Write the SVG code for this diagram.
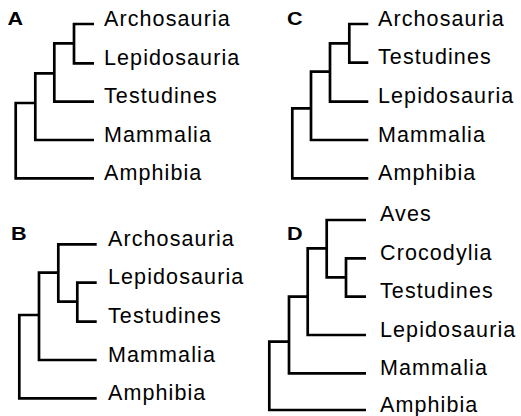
<svg xmlns="http://www.w3.org/2000/svg" width="521" height="416" viewBox="0 0 521 416">
<style>
.e{fill:none;stroke:#000;stroke-width:2.7;stroke-linejoin:miter}
.t{font-family:"Liberation Sans",Arial,sans-serif;font-size:21.5px;letter-spacing:1.1px;fill:#000}
.p{font-family:"Liberation Sans",Arial,sans-serif;font-size:18px;font-weight:bold;fill:#000}
</style>
<rect width="521" height="416" fill="#fff"/>
<g id="connectors">
<path class="e" d="M94 24 H74 V63.3 H94"/>
<path class="e" d="M74 43.3 H54.3 V101.7 H94"/>
<path class="e" d="M54.3 73.3 H35.3 V140 H94"/>
<path class="e" d="M35.3 103 H15.7 V178.3 H94"/>
<path class="e" d="M368.3 24 H349.3 V62.7 H368.3"/>
<path class="e" d="M349.3 43.3 H330 V101.7 H368.3"/>
<path class="e" d="M330 71.7 H311 V140 H368.3"/>
<path class="e" d="M311 108.3 H292.3 V178.3 H368.3"/>
<path class="e" d="M96.7 282.7 H77.3 V321.7 H96.7"/>
<path class="e" d="M96.7 244.3 H58.3 V301.7 H77.3"/>
<path class="e" d="M58.3 272.7 H39 V360 H96.7"/>
<path class="e" d="M39 315 H19.3 V398.3 H96.7"/>
<path class="e" d="M366 258.3 H346 V296.7 H366"/>
<path class="e" d="M366 220 H326.7 V277.3 H346"/>
<path class="e" d="M326.7 248.3 H307.7 V335 H366"/>
<path class="e" d="M307.7 296.7 H289 V373.3 H366"/>
<path class="e" d="M289 341.7 H269.3 V410 H366"/>
</g>
<g id="panelA">
<text class="p" transform="translate(7.5,25) scale(1.2,1)">A</text>
<g id="A-Archosauria"><text class="t" x="104" y="26">Archosauria</text></g>
<g id="A-Lepidosauria"><text class="t" x="104" y="64.5">Lepidosauria</text></g>
<g id="A-Testudines"><text class="t" x="104" y="103">Testudines</text></g>
<g id="A-Mammalia"><text class="t" x="104" y="141.5">Mammalia</text></g>
<g id="A-Amphibia"><text class="t" x="104" y="179.5">Amphibia</text></g>
</g>
<g id="panelC">
<text class="p" transform="translate(287,25) scale(1.2,1)">C</text>
<g id="C-Archosauria"><text class="t" x="378" y="26">Archosauria</text></g>
<g id="C-Testudines"><text class="t" x="378" y="64">Testudines</text></g>
<g id="C-Lepidosauria"><text class="t" x="378" y="103">Lepidosauria</text></g>
<g id="C-Mammalia"><text class="t" x="378" y="141.5">Mammalia</text></g>
<g id="C-Amphibia"><text class="t" x="378" y="179.5">Amphibia</text></g>
</g>
<g id="panelB">
<text class="p" transform="translate(11,239.5) scale(1.2,1)">B</text>
<g id="B-Archosauria"><text class="t" x="108" y="245.5">Archosauria</text></g>
<g id="B-Lepidosauria"><text class="t" x="108" y="284">Lepidosauria</text></g>
<g id="B-Testudines"><text class="t" x="108" y="323">Testudines</text></g>
<g id="B-Mammalia"><text class="t" x="108" y="361.5">Mammalia</text></g>
<g id="B-Amphibia"><text class="t" x="108" y="399.5">Amphibia</text></g>
</g>
<g id="panelD">
<text class="p" transform="translate(287,240) scale(1.2,1)">D</text>
<g id="D-Aves"><text class="t" x="380" y="221">Aves</text></g>
<g id="D-Crocodylia"><text class="t" x="380" y="259.5">Crocodylia</text></g>
<g id="D-Testudines"><text class="t" x="380" y="298">Testudines</text></g>
<g id="D-Lepidosauria"><text class="t" x="380" y="336.5">Lepidosauria</text></g>
<g id="D-Mammalia"><text class="t" x="380" y="374.5">Mammalia</text></g>
<g id="D-Amphibia"><text class="t" x="380" y="411.5">Amphibia</text></g>
</g>
</svg>
